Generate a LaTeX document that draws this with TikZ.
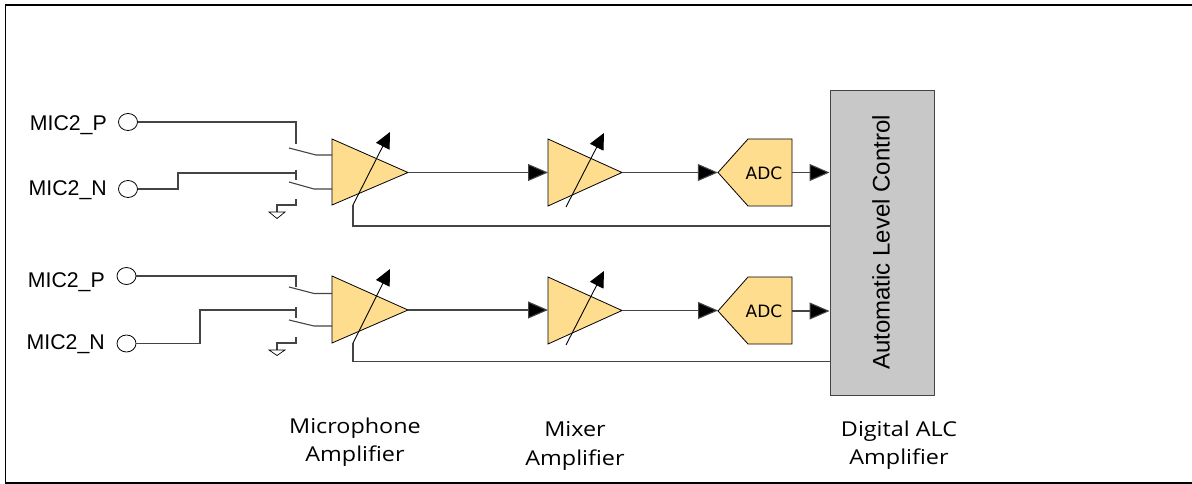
\documentclass[tikz,border=0pt]{standalone}
\usepackage{fontspec}
\setmainfont{Liberation Sans}
\newfontfamily\dejavu{DejaVu Sans}
\newfontfamily\opensans{Open Sans}
\usetikzlibrary{arrows.meta,shapes.geometric,calc}
\definecolor{ampfill}{HTML}{FFDD8F}
\definecolor{almgray}{HTML}{C8C8C8}
\definecolor{wire}{HTML}{444444}
\tikzset{
  x=1pt,y=-1pt,
  wireline/.style={draw=wire,line width=1.1pt},
  port/.style={draw=black,fill=white,ellipse,line width=.8pt,minimum width=19pt,minimum height=17pt,inner sep=0pt},
  amp/.style={fill=ampfill,draw=black,line width=.8pt,line join=miter},
  sig/.style={wireline,-{Triangle[length=20pt,width=17pt,fill=black]}},
  gain/.style={draw=black,line width=.9pt,-{Triangle[length=16pt,width=15pt,fill=black]}},
  miclabel/.style={font=\fontsize{21.3}{24}\selectfont,inner sep=0pt,anchor=base east},
  caption/.style={font=\opensans\fontsize{20.5}{28.5}\selectfont,align=center,inner sep=0pt,xscale=1.14},
  adclabel/.style={font=\dejavu\fontsize{17}{20}\selectfont,inner sep=0pt},
  pt/.style={inner sep=0pt,minimum size=0pt}
}
\newcommand{\ampstage}[6]{% name, x, ytop, ybot, ymid, xtip
  \coordinate (#1t) at (#2,#3);
  \coordinate (#1b) at (#2,#4);
  \coordinate (#1) at (#6,#5);
  \coordinate (#1in) at (#2,#5);
  \filldraw[amp] (#1t) -- (#1) -- (#1b) -- cycle;
}
\begin{document}
\begin{tikzpicture}
\useasboundingbox (0,0) rectangle (1192,484);
\draw[black,line width=1.8pt] (1192,5) -- (5.5,5) -- (5.5,483) -- (1192,483);

% ALC block
\node[draw=wire,fill=almgray,line width=1pt,minimum width=104pt,minimum height=304pt,inner sep=0pt] (alc) at (882,243) {};
\node[rotate=90,inner sep=0pt,font=\fontsize{24}{28}\selectfont] (alct) at (881,242.5) {Automatic Level Control};

% labels and ports
\node[miclabel] (l1) at (107,131) {MIC2\_P};
\node[miclabel] (l2) at (107,196) {MIC2\_N};
\node[miclabel] (l3) at (105,287) {MIC2\_P};
\node[miclabel] (l4) at (105,349) {MIC2\_N};
\node[port] (p1) at (128,122) {};
\node[port] (p2) at (128,189) {};
\node[port] (p3) at (126.5,276) {};
\node[port] (p4) at (126.5,343.5) {};

% amplifiers
\ampstage{ma}{332}{139}{205}{172.5}{408}
\ampstage{mb}{332}{276}{343}{310}{408}
\ampstage{xa}{548}{139}{206}{172.5}{622}
\ampstage{xb}{548}{277}{344}{310.5}{622}

% ADCs
\node[pt] (ada) at (718,172.5) {};
\node[pt] (adb) at (718,311) {};
\filldraw[amp] (ada.center) -- (748,139) -- (792,139) -- (792,206) -- (748,206) -- cycle;
\filldraw[amp] (adb.center) -- (748,277) -- (792,277) -- (792,344) -- (748,344) -- cycle;
\node[adclabel] (adat) at (764,173) {ADC};
\node[adclabel] (adbt) at (764,311) {ADC};
\coordinate (adao) at (792,172.5);
\coordinate (adbo) at (792,311);

% switch top
\draw[wireline] (p1.east) -- (296,122) -- (296,144);
\draw[wireline] (289,148) -- (316,155) -- (332,155);
\draw[wireline] (p2.east) -- (178,189) -- (178,173) -- (296,173);
\draw[wireline] (296,170) -- (296,180);
\draw[wireline] (289,182) -- (314,189) -- (332,189);
\draw[wireline] (296,199) -- (296,205) -- (277,205) -- (277,212);
\draw[draw=black,fill=white,line width=.7pt] (269,212) -- (285,212) -- (277,218.5) -- cycle;

% switch bottom
\draw[wireline] (p3.east) -- (296,276) -- (296,287);
\draw[wireline] (289,287) -- (314,293.5) -- (332,293.5);
\draw[wireline] (p4.east) -- (200,343.5) -- (200,310) -- (296,310);
\draw[wireline] (296,307) -- (296,318);
\draw[wireline] (289,320) -- (314,326) -- (332,326);
\draw[wireline] (296,337) -- (296,343) -- (277,343) -- (277,350);
\draw[draw=black,fill=white,line width=.7pt] (269,350) -- (285,350) -- (277,355.5) -- cycle;

% signal path
\draw[sig] (ma) -- (xain);
\draw[sig] (xa) -- (ada);
\draw[sig] (adao) -- (alc.west |- adao);
\draw[sig] (mb) -- (xbin |- mb);
\draw[sig] (xb) -- (xb -| adb);
\draw[sig] (adbo) -- (alc.west |- adbo);

% gain control and feedback
\coordinate (fa) at (353,226); \coordinate (fb) at (353,361.5);
\draw[wireline] (alc.west |- fa) -- (fa) -- (353,205);
\draw[wireline] (alc.west |- fb) -- (fb) -- (353,343);
\draw[gain] (353,205) -- (390,132);
\draw[gain] (353,343) -- (390,269);
\draw[gain] (566,207) -- (604,133);
\draw[gain] (566,345) -- (604,271);

% captions
\node[caption] (c1) at (355,442) {Microphone\\Amplifier};
\node[caption] (c2) at (575,446) {Mixer\\Amplifier};
\node[caption] (c3) at (899,445) {Digital ALC\\Amplifier};
\end{tikzpicture}
\end{document}
